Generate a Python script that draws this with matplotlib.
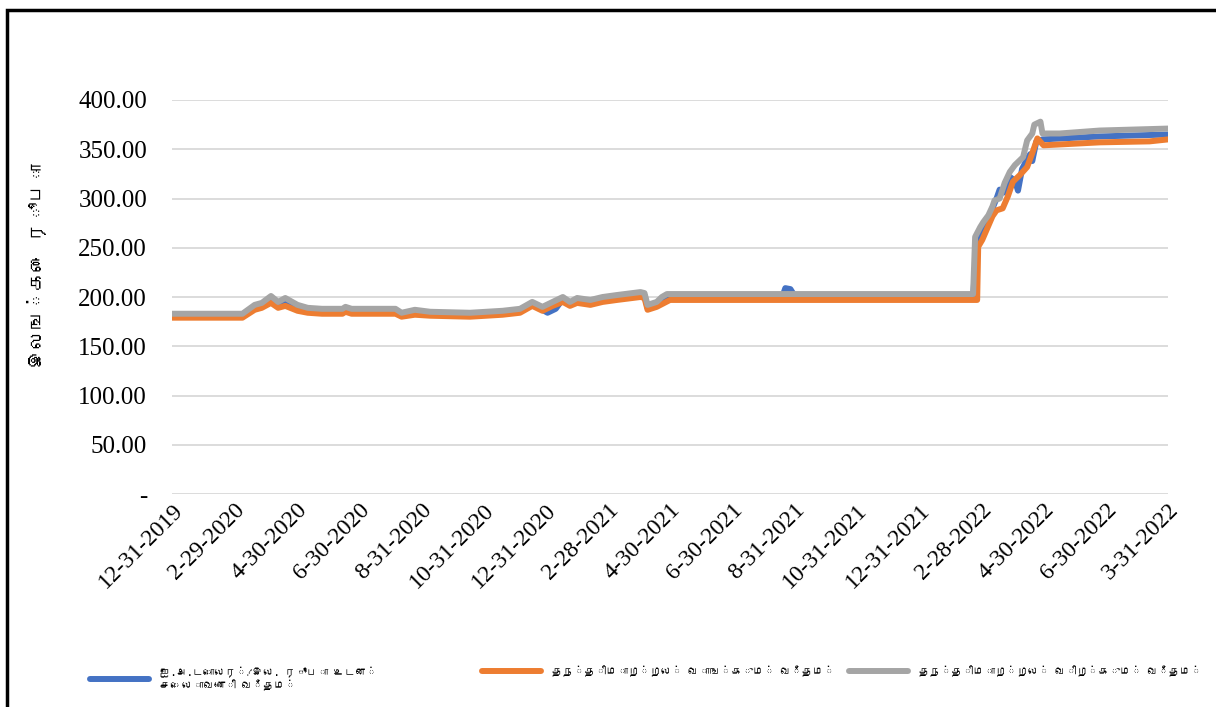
import matplotlib
matplotlib.use('Agg')
import matplotlib.pyplot as plt
import matplotlib.patches as mpatches
from matplotlib import font_manager, ft2font

# find a font with Tamil glyphs, if there is one
def find_tamil_font():
    for path in font_manager.findSystemFonts():
        try:
            f = ft2font.FT2Font(path)
            if 0x0B87 in f.get_charmap():
                font_manager.fontManager.addfont(path)
                return font_manager.FontProperties(fname=path).get_name()
        except Exception:
            pass
    return None

tamil = find_tamil_font()
tamil_family = [tamil, 'DejaVu Sans'] if tamil else ['DejaVu Sans']

tick_labels = ['12-31-2019', '2-29-2020', '4-30-2020', '6-30-2020', '8-31-2020',
               '10-31-2020', '12-31-2020', '2-28-2021', '4-30-2021', '6-30-2021',
               '8-31-2021', '10-31-2021', '12-31-2021', '2-28-2022', '4-30-2022',
               '6-30-2022', '3-31-2022']
tick_days = [i * 61 for i in range(len(tick_labels))]

# selling rate (grey)
sell_days = [0, 69, 81, 88, 97, 104, 111, 123, 133, 147, 167, 170, 176, 219, 225, 238,
             253, 292, 324, 341, 353, 363, 373, 383, 390, 397, 410, 422, 436, 459, 463,
             466, 475, 480, 485, 785, 787, 792, 795, 800, 804, 806, 811, 816, 821, 826,
             831, 834, 838, 843, 845, 851, 853, 870, 909, 976]
sell_vals = [183, 183, 192, 194, 201, 195, 199, 192, 189, 188, 188, 190, 188, 188, 184, 187,
             185, 184, 186, 188, 195, 190, 195, 200, 195, 199, 197, 200, 202, 205, 204,
             192, 195, 200, 203, 203, 261, 271, 276, 283, 292, 298, 300, 316, 327, 334,
             339, 342, 359, 366, 375, 378, 366, 366, 369, 371]

# buying rate (orange)
buy_days = [0, 69, 81, 88, 97, 104, 111, 123, 133, 147, 167, 170, 176, 219, 225, 238,
            253, 292, 324, 341, 353, 363, 373, 383, 390, 397, 410, 422, 436, 459, 463,
            466, 475, 488, 785, 789, 790, 794, 799, 804, 808, 814, 819, 824, 831, 838,
            843, 848, 854, 909, 958, 976]
buy_vals = [179, 179, 187, 189, 194, 189, 191, 186, 184, 183, 183, 185, 183, 183, 180, 182,
            181, 180, 182, 184, 191, 186, 191, 195, 191, 194, 192, 195, 197, 200, 199,
            187, 190, 197, 197, 197, 251, 258, 270, 282, 288, 290, 302, 317, 324, 332,
            346, 361, 354, 357, 358, 360]

# spot rate (blue)
spot_days = [0, 69, 81, 88, 97, 104, 111, 123, 133, 147, 167, 176, 219, 225, 238, 253,
             292, 324, 341, 353, 368, 376, 383, 390, 397, 410, 422, 436, 459, 463, 466,
             475, 485, 598, 601, 606, 609, 611, 785, 787, 789, 794, 799, 804, 808, 811,
             815, 821, 826, 829, 833, 838, 841, 843, 847, 853, 909, 976]
spot_vals = [181, 181, 190, 191.5, 198, 192, 195, 189, 186.5, 185.5, 185.5, 185.5, 185.5,
             182, 184.5, 183, 182, 184, 186, 193, 184, 188, 198, 193, 196.5, 194.5, 197.5,
             199.5, 202.5, 201.5, 189, 192.5, 200, 200, 209, 208, 203, 200, 200, 230, 255,
             265, 276, 290, 300, 309, 306, 322, 318, 308, 330, 340, 345, 338, 358, 360,
             363, 365]

y_ticks = [0, 50, 100, 150, 200, 250, 300, 350, 400]
y_tick_labels = ['-', '50.00', '100.00', '150.00', '200.00', '250.00', '300.00',
                 '350.00', '400.00']

series_names = ['ஐ.அ.டொலர்/இல. ரூபா உடன்\nசெலாவணி வீதம்',
                'தந்திமாற்றல் வாங்கும் வீதம்',
                'தந்திமாற்றல் விற்கும் வீதம்']
series_colors = ['#4472C4', '#ED7D31', '#A5A5A5']
y_title = 'இலங்கை ரூபா'

fig = plt.figure(figsize=(12.16, 7.07), dpi=100)
ax = fig.add_axes([172 / 1216, 1 - 494 / 707, 996 / 1216, 394 / 707])

lw = 4.3
lines = []
for xs, ys, c, name in [(spot_days, spot_vals, series_colors[0], series_names[0]),
                        (buy_days, buy_vals, series_colors[1], series_names[1]),
                        (sell_days, sell_vals, series_colors[2], series_names[2])]:
    ln, = ax.plot(xs, ys, color=c, lw=lw, solid_capstyle='round',
                  solid_joinstyle='round', label=name)
    lines.append(ln)

ax.set_xlim(0, tick_days[-1])
ax.set_ylim(0, 400)
ax.set_yticks(y_ticks)
ax.set_yticklabels(y_tick_labels, fontsize=18, family='Liberation Serif')
ax.set_xticks(tick_days)
ax.set_xticklabels(tick_labels, rotation=45, ha='right', va='top',
                   rotation_mode='anchor', fontsize=17, family='Liberation Serif')
ax.tick_params(axis='y', length=0, pad=18)
ax.tick_params(axis='x', length=0, pad=4)
ax.grid(axis='y', color='#D9D9D9', lw=1.3)
ax.set_axisbelow(True)
for s in ax.spines.values():
    s.set_visible(False)

fig.text(36 / 1216, 1 - 266 / 707, y_title, rotation=90, ha='center', va='center',
         fontsize=14, fontweight='bold', family=tamil_family)

# one legend per entry, placed like the reference
leg_x = [90, 482, 849]
leg_y = [679, 671, 671]
leg_size = 7.8
for ln, x0, y0 in zip(lines, leg_x, leg_y):
    fig.legend(handles=[ln], loc='center left',
               bbox_to_anchor=(x0 / 1216, 1 - y0 / 707), frameon=False,
               prop={'family': tamil_family, 'size': leg_size},
               handlelength=42.5 / leg_size, handletextpad=8 / leg_size,
               borderpad=0, borderaxespad=0)

fig.patches.append(mpatches.Rectangle((7 / 1216, -0.02), 1.05, 1 - 10 / 707 + 0.02,
                                      transform=fig.transFigure, fill=False,
                                      edgecolor='black', lw=2.5))

plt.savefig('out.png', dpi=100)
